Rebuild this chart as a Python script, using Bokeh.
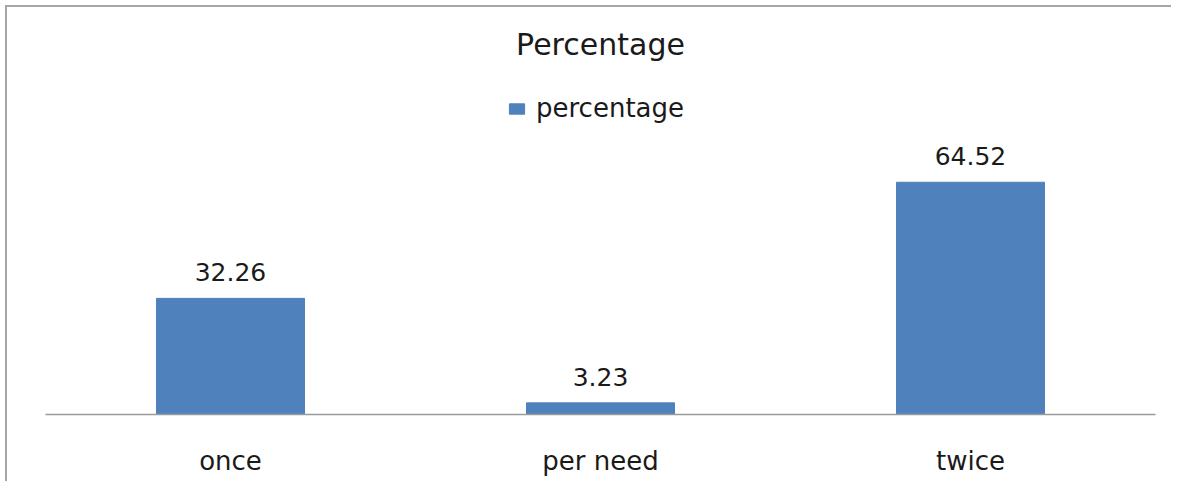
from bokeh.plotting import figure
from bokeh.models import ColumnDataSource, LabelSet, Label, Legend, LegendItem, Range1d
from bokeh.core.properties import value
from bokeh.embed import file_html
from bokeh.resources import INLINE

categories = ["once", "per need", "twice"]
values = [32.26, 3.23, 64.52]
value_labels = ["32.26", "3.23", "64.52"]
series_name = "percentage"
chart_title = "Percentage"

FONT = "DejaVu Sans"
TXT = "#1a1a1a"
BLUE = "#4F81BD"

src = ColumnDataSource(dict(cat=categories, val=values, lbl=value_labels))

# chart area border: the host element carries the top/left edge seen in the reference
OFF = 7
p = figure(width=1173 - OFF, height=483 - OFF, x_range=categories, y_range=Range1d(0, (414 - OFF) / 3.6),
           output_backend="svg", toolbar_location=None, title=None,
           min_border_left=45 - OFF, min_border_right=18, min_border_top=0, min_border_bottom=69)
p.styles = {"border-top": "2px solid #a6a6a6", "border-left": "2px solid #a6a6a6",
            "margin-top": "5px", "margin-left": "5px"}
p.outline_line_color = None
p.background_fill_color = "white"
p.border_fill_color = "white"
p.xgrid.visible = False
p.ygrid.visible = False
p.yaxis.visible = False
p.x_range.range_padding = 0

r = p.vbar(x="cat", top="val", width=0.4, source=src, fill_color=BLUE, line_color=BLUE)

ax = p.xaxis[0]
ax.axis_line_color = "#9a9a9a"
ax.axis_line_width = 1.5
ax.major_tick_line_color = None
ax.minor_tick_line_color = None
ax.major_label_text_font = FONT
ax.major_label_text_font_size = "26px"
ax.major_label_text_color = TXT
ax.major_label_standoff = 25

labels = LabelSet(x="cat", y="val", text="lbl", source=src, y_offset=17,
                  text_align="center", text_baseline="alphabetic",
                  text_font=value(FONT), text_font_size=value("25px"), text_color=TXT)
p.add_layout(labels)

title = Label(x=555, y=370, x_units="screen", y_units="screen", text=chart_title,
              text_align="center", text_baseline="middle",
              text_font=FONT, text_font_size="30px", text_color=TXT)
p.add_layout(title)

legend = Legend(items=[LegendItem(label=series_name, renderers=[r])],
                location=(462, 291), orientation="horizontal",
                glyph_width=19, glyph_height=13, label_standoff=10,
                padding=0, margin=0, spacing=0,
                border_line_color=None, background_fill_alpha=0,
                label_text_font=FONT, label_text_font_size="26px", label_text_color=TXT)
p.add_layout(legend, "center")

open("out.html", "w").write(file_html(p, INLINE))
